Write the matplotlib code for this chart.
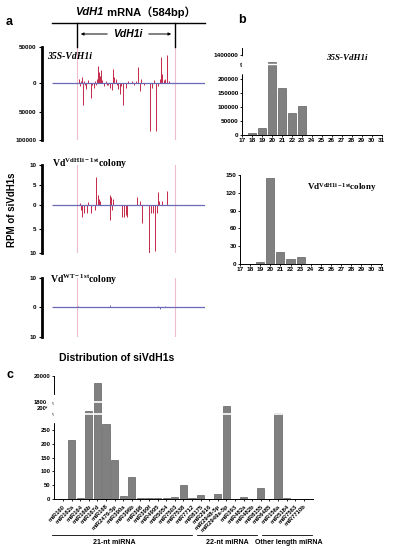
import numpy as np
import matplotlib
matplotlib.use('Agg')
import matplotlib.pyplot as plt
from matplotlib import transforms
from matplotlib.lines import Line2D
from matplotlib.patches import FancyArrowPatch
from matplotlib.ticker import FuncFormatter

plt.rcParams['font.family'] = ['Liberation Sans', 'Noto Sans CJK SC', 'DejaVu Sans']
plt.rcParams['font.weight'] = 'bold'
plt.rcParams['mathtext.fontset'] = 'custom'
plt.rcParams['mathtext.rm'] = 'Liberation Serif:bold'
plt.rcParams['mathtext.it'] = 'Liberation Serif:italic:bold'

W, H = 393, 550

# ---- data ----
# panel a: siRNA read coverage along VdH1 mRNA (bp position, RPM; negative = antisense)
a1_pos = [103, 107, 111, 115, 118, 122, 126, 130, 137, 149, 153, 160, 164, 168, 172, 176, 179, 183,
          187, 191, 198, 205, 210, 214, 221, 229, 233, 237, 244, 248, 252, 260, 264, 271, 282, 290,
          305, 313, 320, 328, 336, 340, 350, 374, 382, 390, 397, 405, 412, 416, 420, 427, 431, 439,
          445]
a1_val = [5000, -5000, 2500, 8000, -38000, 3000, -3000, -10000, 4000, -26000, -3000, -8000, 3000,
          -4000, 6000, 24000, 15000, 10000, 18000, 4000, -5000, 3000, -3000, -4000, -8000, -12000,
          20000, 9000, 5000, -4000, -10000, -20000, -5000, -38000, -8000, 3000, 2500, -4000, 3000,
          22000, -14000, 6000, -3000, -84000, -8000, 4000, -84000, -5000, 6000, 36000, 12000, 4000,
          6000, 39000, 3000]
a2_pos = [107, 111, 115, 122, 134, 137, 149, 164, 168, 176, 179, 183, 221, 221, 225, 229, 233, 267,
          275, 282, 286, 324, 336, 344, 370, 378, 386, 393, 401, 405, 408, 420, 439]
a2_val = [0.5, -1, -2.5, -1.5, -1.5, 0.8, -1.5, -1, 7, 2.5, 1.5, 1, 2.5, -3, 2, -1, 1.5, -2.5,
          -2.5, -2, -2.5, 2, 1, -3.6, -10, -1.5, -1.5, -9.5, -1.5, 3.3, 1, 1, 3.5]
a3_pos = [99, 221, 405, 412, 431]
a3_val = [0.4, 0.6, 0.5, -0.8, 0.5]

# panel b: length distribution of siVdH1s
b_len = list(range(17, 32))
b_35s = [0, 8000, 25000, 1300000, 168000, 80000, 103000, 1000, 0, 0, 0, 0, 0, 0, 0]
b_col = [0, 0, 3, 145, 20, 8, 12, 0, 0, 0, 0, 0, 0, 0, 0]

# panel c: miRNA-like siVdH1s
c_21 = ['miR160', 'miR162a', 'miR164', 'miR166b', 'miR167d', 'miR168', 'miR2476-5p', 'miR390a',
        'miR396b', 'miR398', 'miR399f', 'miR4995', 'miR5054', 'miR7503', 'miR7538', 'miR7712']
c_22 = ['miR8175', 'miR2916', 'miR2948-5p', 'miR2949a-5p', 'miR393', 'miR482a', 'miR482b']
c_other = ['miR8155', 'miR6485', 'miR156a', 'miR5184', 'miR7563', 'miR7710b']
c_val = [0, 215, 4, 1500, 19500, 270, 140, 12, 78, 2, 5, 2, 2, 7, 52, 3,
         15, 0, 18, 2300, 1, 8, 1,
         38, 0, 1100, 2, 0, 0]


def box(x0, y0, x1, y1):
    return [x0 / W, 1 - y1 / H, (x1 - x0) / W, (y1 - y0) / H]


def piecewise(ax, vals, pxs):
    ax.set_yscale('function', functions=(lambda v: np.interp(v, vals, pxs),
                                         lambda p: np.interp(p, pxs, vals)))


def break_mark(ax, y, size=3.5):
    tr = transforms.blended_transform_factory(ax.transAxes, ax.transData)
    ax.text(0, y, '//', transform=tr, ha='center', va='center', fontsize=size, rotation=15,
            backgroundcolor='white', zorder=5, clip_on=False)


fig = plt.figure(figsize=(W / 100, H / 100), dpi=100)

# ---- panel a ----
red, blue, pink = '#c42848', '#6a6ab8', '#eebccb'
a_axes = []
specs = [(47, 140, [-100000, 50000], [-57, 36], [50000, 0, -50000, -100000], a1_pos, a1_val, red),
         (165, 253, [-10, 10], [-47, 40], [10, 5, 0, -5, -10], a2_pos, a2_val, red),
         (278, 337, [-10, 10], [-30, 29], [10, 0, -10], a3_pos, a3_val, blue)]
for y0, y1, lim, px, ticks, pos, val, col in specs:
    ax = fig.add_axes(box(42, y0, 205, y1))
    piecewise(ax, [lim[0] * 1e4, lim[0], 0, lim[1], lim[1] * 1e4],
              [px[0] * 1e4, px[0], 0, px[1], px[1] * 1e4])
    ax.set_ylim(lim)
    ax.set_xlim(-38, 584)
    ax.axvline(95, color=pink, lw=0.8, zorder=0)
    ax.axvline(470, color=pink, lw=0.8, zorder=0)
    ax.vlines(pos, 0, val, color=col, lw=0.7)
    ax.hlines(0, 0, 584, color=blue, lw=0.9)
    ax.set_yticks(ticks)
    ax.yaxis.set_major_formatter(FuncFormatter(lambda v, p: f'{abs(v):g}'))
    ax.tick_params(axis='y', labelsize=4.5, length=2, width=0.8, pad=2)
    ax.set_xticks([])
    for s in ('top', 'right', 'bottom'):
        ax.spines[s].set_visible(False)
    ax.spines['left'].set_linewidth(2)
    ax.patch.set_alpha(0)
    a_axes.append(ax)

a_axes[0].text(0.03, 0.87, '35S-VdH1i', transform=a_axes[0].transAxes, family='Liberation Serif',
               style='italic', weight='bold', fontsize=7)
a_axes[1].text(0.06, 0.98, r'Vd$^{\mathrm{VdH1i-1st}}$colony', transform=a_axes[1].transAxes,
               family='Liberation Serif', weight='bold', fontsize=7)
a_axes[2].text(0.05, 0.92, r'Vd$^{\mathrm{WT-1st}}$colony', transform=a_axes[2].transAxes,
               family='Liberation Serif', weight='bold', fontsize=7)
fig.text(12 / W, 1 - 210 / H, 'RPM of siVdH1s', rotation=90, ha='center', va='center', fontsize=7)

# gene diagram
fig.add_artist(Line2D([52 / W, 205 / W], [1 - 23 / H] * 2, color='black', lw=1))
for xp in (77, 175):
    fig.add_artist(Line2D([xp / W] * 2, [1 - 23 / H, 1 - 47 / H], color='black', lw=1))
fig.text(103 / W, 1 - 12 / H, 'VdH1', style='italic', ha='right', va='center', fontsize=8)
fig.text(104 / W, 1 - 12 / H, ' mRNA（584bp）', ha='left', va='center', fontsize=8)
fig.text(128 / W, 1 - 34 / H, 'VdH1i', style='italic', ha='center', va='center', fontsize=7.5)
for xa, xb in ((110, 78), (146, 174)):
    fig.add_artist(FancyArrowPatch((xa / W, 1 - 34 / H), (xb / W, 1 - 34 / H),
                                   transform=fig.transFigure, arrowstyle='-|>',
                                   mutation_scale=4, lw=0.7, color='black'))
fig.text(9 / W, 1 - 22 / H, 'a', ha='center', va='center', fontsize=9)
fig.text(242 / W, 1 - 20 / H, 'b', ha='center', va='center', fontsize=9)
fig.text(10 / W, 1 - 375 / H, 'c', ha='center', va='center', fontsize=9)

# ---- panel b ----
bar_kw = dict(width=0.8, color='#808080', edgecolor='#4a4a4a', linewidth=0.4)
axb1 = fig.add_axes(box(242, 48, 382, 135))
piecewise(axb1, [-1e9, 0, 240000, 1300000, 1400000, 1450000, 1e10],
          [-1e9 * 67 / 240000, 0, 67, 73, 80, 87, 87 + (1e10 - 1450000) * 14 / 1e5])
axb1.bar(b_len, b_35s, **bar_kw)
axb1.set_ylim(0, 1450000)
axb1.set_yticks([0, 50000, 100000, 150000, 200000, 1400000])
axb1.yaxis.set_major_formatter(FuncFormatter(lambda v, p: f'{v:.0f}'))
axb1.axhline(1000000, xmin=0.02, color='white', lw=1.0, zorder=4)
break_mark(axb1, 700000)
axb1.text(0.75, 0.86, '35S-VdH1i', transform=axb1.transAxes, family='Liberation Serif',
          style='italic', weight='bold', fontsize=6.5, ha='center')

axb2 = fig.add_axes(box(240, 175, 382, 264))
axb2.bar(b_len, b_col, **bar_kw)
axb2.set_ylim(0, 150)
axb2.set_yticks(range(0, 151, 30))
axb2.text(0.72, 0.83, r'Vd$^{\mathrm{VdH1i-1st}}$colony', transform=axb2.transAxes,
          family='Liberation Serif', weight='bold', fontsize=6.5, ha='center')
for ax in (axb1, axb2):
    ax.set_xlim(17, 31.05)
    ax.set_xticks(b_len)
    ax.tick_params(labelsize=4.6, length=1.5, width=0.6, pad=1)
    for s in ('top', 'right'):
        ax.spines[s].set_visible(False)
    for s in ('left', 'bottom'):
        ax.spines[s].set_linewidth(0.7)
    ax.patch.set_alpha(0)

# ---- panel c ----
fig.text(117 / W, 1 - 358 / H, 'Distribution of siVdH1s', ha='center', va='center', fontsize=7.5)
axc = fig.add_axes(box(54, 376, 313, 499))
piecewise(axc, [-1e9, 0, 300, 1500, 2000, 2500, 18000, 20000, 1e10],
          [-1e9 * 83 / 300, 0, 83, 88, 91, 94, 97, 123, 123 + (1e10 - 20000) * 26 / 2000])
names = c_21 + c_22 + c_other
x = np.arange(len(names))
axc.bar(x, c_val, width=0.85, color='#808080', edgecolor='#4a4a4a', linewidth=0.4)
axc.set_xlim(-1.05, 29.07)
axc.set_ylim(0, 20000)
axc.set_yticks([0, 50, 100, 150, 200, 250, 2000, 18000, 20000])
axc.axhline(780, xmin=0.01, color='white', lw=1.2, zorder=4)
axc.axhline(18000, xmin=0.01, color='white', lw=1.2, zorder=4)
break_mark(axc, 600, 3)
break_mark(axc, 10000, 3)
axc.set_xticks(x)
axc.set_xticklabels(names, rotation=45, ha='right', rotation_mode='anchor', fontsize=4.2)
axc.tick_params(labelsize=4.2, length=1.5, width=0.6, pad=1)
axc.tick_params(axis='x', pad=2)
for s in ('top', 'right'):
    axc.spines[s].set_visible(False)
for s in ('left', 'bottom'):
    axc.spines[s].set_linewidth(0.7)

trg = transforms.blended_transform_factory(axc.transData, axc.transAxes)
n21, n22 = len(c_21), len(c_22)
groups = [(-1.28, n21 - 1.0, 5.9, '21-nt miRNA'),
          (n21 - 0.4, n21 + n22 - 0.4, 19.1, '22-nt miRNA'),
          (n21 + n22 + 0.1, len(names) - 0.1, 26.3, 'Other length miRNA')]
for g0, g1, xt, lab in groups:
    axc.add_line(Line2D([g0, g1], [-0.29, -0.29], transform=trg, color='black',
                        lw=0.6, clip_on=False))
    axc.text(xt, -0.35, lab, transform=trg, ha='center', va='center', fontsize=5)

fig.savefig('out.png', dpi=100)
